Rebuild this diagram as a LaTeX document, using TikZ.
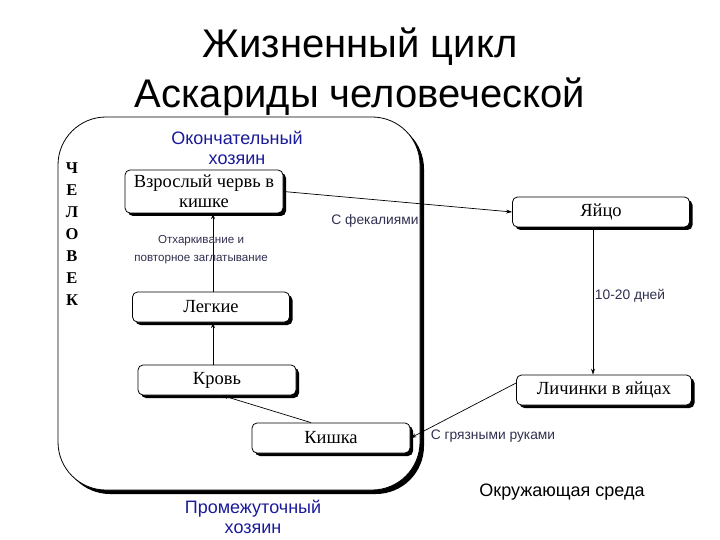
\documentclass[tikz,border=0pt]{standalone}
\usepackage{fontspec}
\setmainfont{Liberation Serif}
\newfontfamily\arialf{Liberation Sans}
\usetikzlibrary{shadows,arrows.meta}
\definecolor{hostblue}{HTML}{1A1A9A}
\definecolor{lblgray}{HTML}{303050}
\begin{document}
\begin{tikzpicture}[x=1pt,y=-1pt,
  stagebox/.style={draw=black,line width=0.8pt,rounded corners=5pt,fill=white,
    drop shadow={shadow xshift=3pt,shadow yshift=-3pt,opacity=1,fill=black},
    minimum height=30pt,inner sep=1pt,font=\fontsize{18.5}{18.5}\selectfont,align=center},
  conn/.style={line width=0.7pt,-{Stealth[length=6pt,width=4pt]}},
  lbl/.style={font=\arialf\fontsize{13.8}{16}\selectfont,text=lblgray,align=center},
  host/.style={font=\arialf\fontsize{18}{20}\selectfont,text=hostblue,align=center},
  title/.style={font=\arialf\fontsize{40}{50}\selectfont,align=center}]
\useasboundingbox (0,0) rectangle (720,540);
% outer container
\fill[black,rounded corners=48pt] (62,121) rectangle (424,494);
\draw[fill=white,line width=0.8pt,rounded corners=48pt] (58,117) rectangle (420,490);
% title
\node[title] (t) at (360,72) {Жизненный цикл\\Аскариды человеческой};
% host labels
\node[host] (fin) at (237,148) {Окончательный\\хозяин};
\node[host] (inter) at (253,517) {Промежуточный\\хозяин};
\node[font=\fontsize{16.5}{22}\selectfont\bfseries,align=center] (man) at (72,234) {Ч\\Е\\Л\\О\\В\\Е\\К};
% boxes
\node[stagebox,minimum width=158pt,minimum height=43pt,font=\fontsize{18.5}{20}\selectfont] (vz) at (204,191.5) {Взрослый червь в\\кишке};
\node[stagebox,minimum width=177pt] (ya) at (601,212) {Яйцо};
\node[stagebox,minimum width=157pt] (lg) at (211,307) {Легкие};
\node[stagebox,minimum width=158pt] (kr) at (217,380) {Кровь};
\node[stagebox,minimum width=175pt] (li) at (604,390) {Личинки в яйцах};
\node[stagebox,minimum width=158pt] (ki) at (331,438) {Кишка};
% connectors
\draw[conn] (vz.east) -- (ya.west);
\draw[conn] ([xshift=-8pt]ya.south) -- ([xshift=-8pt]ya.south |- li.north);
\draw[conn] ([yshift=7pt]li.west) -- (ki.east);
\draw[conn] ([xshift=-20pt]ki.north) -- ([xshift=5pt]kr.south);
\draw[conn] ([xshift=-4pt]kr.north) -- ([xshift=-4pt]kr.north |- lg.south);
\draw[conn] ([xshift=2pt]lg.north) -- ([xshift=2pt]lg.north |- vz.south);
% connector labels
\node[lbl,font=\arialf\fontsize{11.6}{18}\selectfont] (l1) at (201,250) {Отхаркивание и\\повторное заглатывание};
\node[lbl] (l2) at (375,221) {С фекалиями};
\node[lbl] (l3) at (630,296) {10-20 дней};
\node[lbl] (l4) at (493,436) {С грязными руками};
\node[font=\arialf\fontsize{18}{20}\selectfont] (env) at (562,492) {Окружающая среда};
\end{tikzpicture}
\end{document}
